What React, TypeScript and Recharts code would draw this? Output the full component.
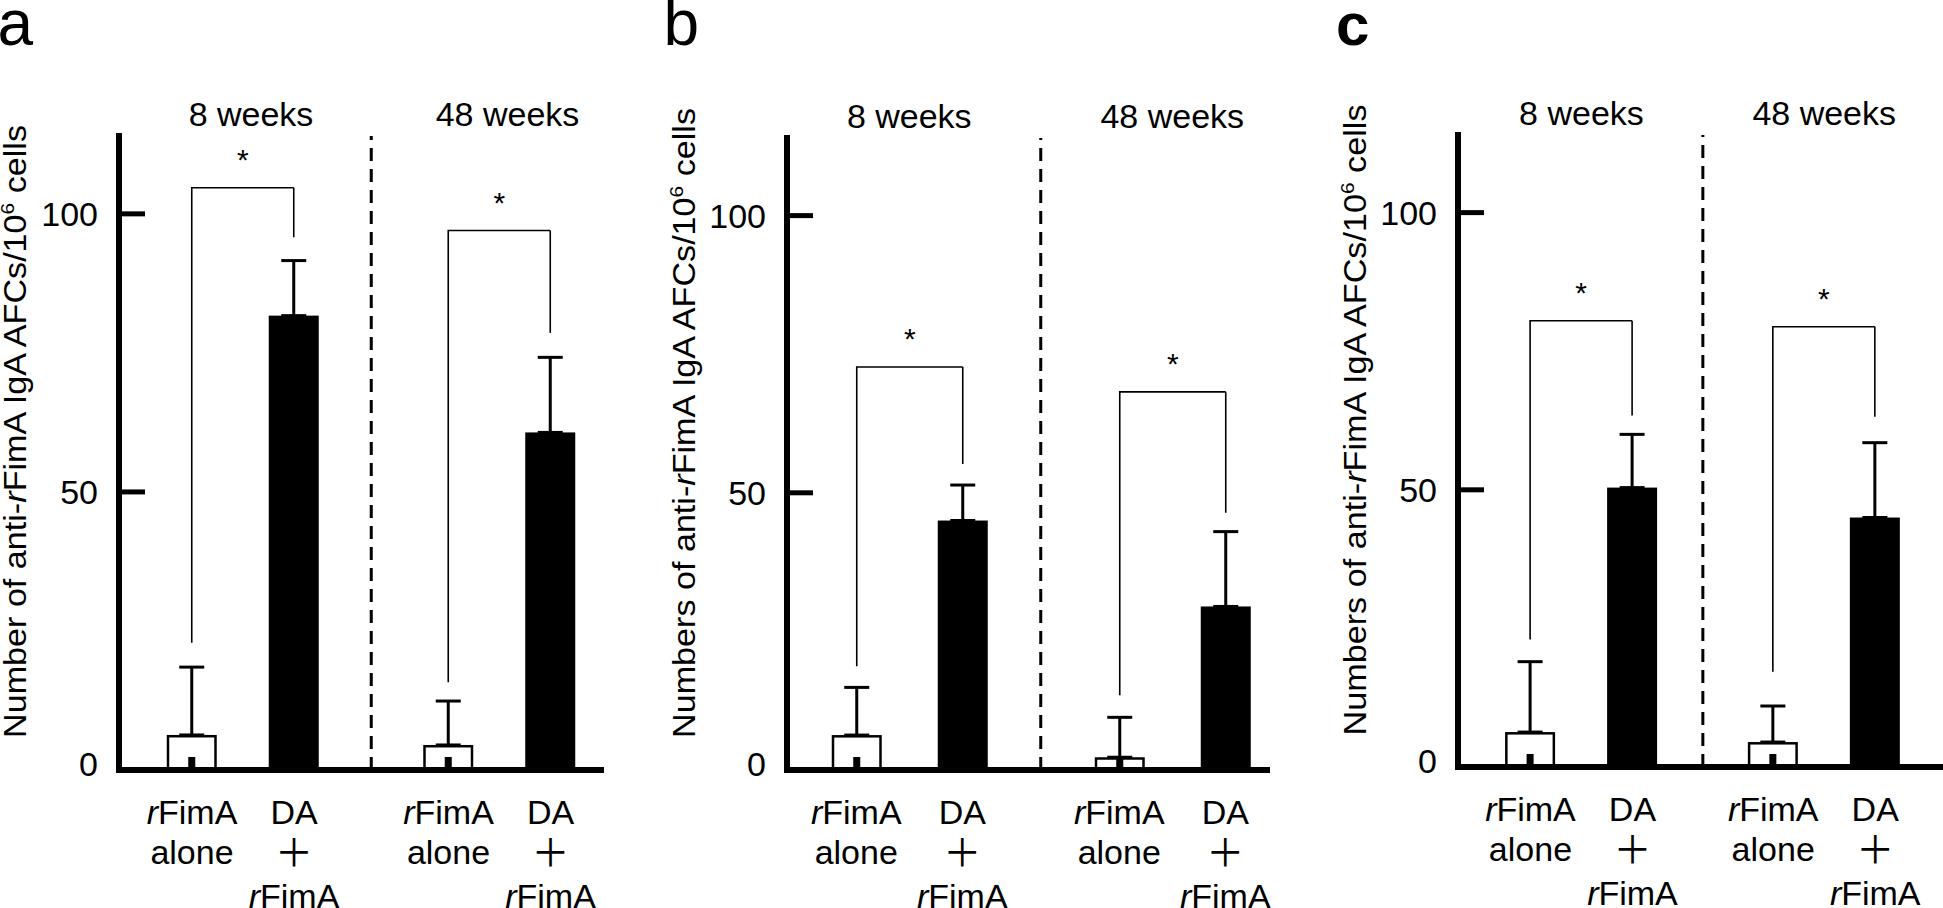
import React from "react";
import { BarChart, Bar, XAxis, YAxis, ErrorBar, ReferenceLine } from "recharts";

const FONT = "'Liberation Sans', Arial, Helvetica, sans-serif";

const GROUPS = ["8 weeks", "48 weeks"];
const Y_TICKS = [0, 50, 100];
const Y_MAX = 114;
const ALONE_LABEL = ["rFimA", "alone"];
const DA_LABEL = ["DA", "+", "rFimA"];

// panel a: means, SD, and the significance bracket levels (axis units)
const A_ALONE = [6.3, 4.5];
const A_ALONE_SD = [12.2, 7.9];
const A_DA = [81.7, 60.7];
const A_DA_SD = [9.9, 13.5];
const A_BRACKET = [104.7, 97.0];
const A_LEG_ALONE = [22.9, 15.8];
const A_LEG_DA = [95.8, 78.6];

// panel b
const B_ALONE = [6.3, 2.3];
const B_ALONE_SD = [8.6, 7.2];
const B_DA = [45.0, 29.5];
const B_DA_SD = [6.4, 13.5];
const B_BRACKET = [72.7, 68.2];
const B_LEG_ALONE = [18.7, 13.5];
const B_LEG_DA = [55.2, 46.4];

// panel c
const C_ALONE = [6.3, 4.5];
const C_ALONE_SD = [12.7, 6.5];
const C_DA = [50.4, 45.0];
const C_DA_SD = [9.6, 13.5];
const C_BRACKET = [80.5, 79.4];
const C_LEG_ALONE = [23.0, 17.2];
const C_LEG_DA = [63.4, 63.2];

const BAR = 50;
const LINE_Y = [54, 94, 138];

function rows(alone, aloneSd, da, daSd, bracket, legAlone, legDa) {
  return GROUPS.map((group, i) => ({
    group,
    alone: alone[i],
    aloneSd: aloneSd[i],
    da: da[i],
    daSd: daSd[i],
    bracket: bracket[i],
    legAlone: legAlone[i],
    legDa: legDa[i],
  }));
}

const PANELS = [
  {
    key: "a",
    data: rows(A_ALONE, A_ALONE_SD, A_DA, A_DA_SD, A_BRACKET, A_LEG_ALONE, A_LEG_DA),
    left: 0, width: 640, yAxisWidth: 119, marginRight: 36,
    top: 136, bottom: 770, padL: -4.25, padR: -23.75, gap: 52,
    lead: "Number", labelX: 26, labelDy: -21.5, labelLen: 613, headerDx: 8,
  },
  {
    key: "b",
    data: rows(B_ALONE, B_ALONE_SD, B_DA, B_DA_SD, B_BRACKET, B_LEG_ALONE, B_LEG_DA),
    left: 660, width: 640, yAxisWidth: 127, marginRight: 30,
    top: 138, bottom: 770, padL: -9.25, padR: -33.75, gap: 56,
    lead: "Numbers", labelX: 35, labelDy: -31, labelLen: 630, headerDx: 0,
  },
  {
    key: "c",
    data: rows(C_ALONE, C_ALONE_SD, C_DA, C_DA_SD, C_BRACKET, C_LEG_ALONE, C_LEG_DA),
    left: 1300, width: 643, yAxisWidth: 158, marginRight: 0,
    top: 135, bottom: 767, padL: 2.1, padR: -2.6, gap: 52,
    lead: "Numbers", labelX: 66, labelDy: -31, labelLen: 631, headerDx: 0,
  },
];

function Line1({ text }) {
  if (text === "rFimA") {
    return (
      <>
        <tspan fontStyle="italic">r</tspan>FimA
      </>
    );
  }
  return <>{text}</>;
}

function BarLabel({ x, y, lines }) {
  return (
    <>
      {lines.map((t, i) =>
        t === "+" ? (
          <text key={i} x={x} y={y + LINE_Y[i] + 2} textAnchor="middle" fontFamily="'Noto Sans CJK JP', sans-serif" fontSize={38}>
            {"\uFF0B"}
          </text>
        ) : (
          <text key={i} x={x} y={y + LINE_Y[i]} textAnchor="middle" fontFamily={FONT} fontSize={34}>
            <Line1 text={t} />
          </text>
        )
      )}
    </>
  );
}

function ValueTick({ x, y, payload }) {
  return (
    <g>
      <text x={x} y={payload.value === 0 ? y - 6 : y} dy="0.36em" textAnchor="end" fontFamily={FONT} fontSize={34} fill="#000">
        {payload.value}
      </text>
      <line x1={x + 21} x2={x + 47} y1={y} y2={y} stroke="#000" strokeWidth={5} />
    </g>
  );
}

function AxisTitle({ viewBox, lead, dx, dy, len }) {
  const cx = viewBox.x + dx;
  const cy = viewBox.y + viewBox.height / 2 + dy;
  return (
    <text
      transform={`translate(${cx},${cy}) rotate(-90)`}
      textAnchor="middle"
      fontFamily={FONT}
      fontSize={31}
      fill="#000"
      textLength={len}
      lengthAdjust="spacingAndGlyphs"
    >
      {lead} of anti-<tspan fontStyle="italic">r</tspan>FimA IgA AFCs/10
      <tspan dy={-12} fontSize={19}>6</tspan>
      <tspan dy={12}> cells</tspan>
    </text>
  );
}

function AloneBar(props) {
  const { x, y, width, height, payload, span } = props;
  const base = y + height;
  const ppu = height / payload.alone;
  const cx = x + width / 2;
  const top = base - payload.bracket * ppu;
  const leg = base - payload.legAlone * ppu;
  return (
    <g>
      <rect x={x + 1.25} y={y + 1.25} width={width - 2.5} height={Math.max(height - 1.25, 0)} fill="#fff" stroke="#000" strokeWidth={2.5} />
      <rect x={cx - 3.5} y={base - 13} width={7} height={13} fill="#000" />
      <path d={`M${cx},${leg}V${top}H${cx + span}`} fill="none" stroke="#000" strokeWidth={1.6} />
      <text x={cx + span / 2} y={top - 18} textAnchor="middle" fontFamily={FONT} fontSize={30} fill="#000">
        *
      </text>
    </g>
  );
}

function DaBar(props) {
  const { x, y, width, height, payload } = props;
  const base = y + height;
  const ppu = height / payload.da;
  const cx = x + width / 2;
  const top = base - payload.bracket * ppu;
  const leg = base - payload.legDa * ppu;
  return (
    <g>
      <rect x={x} y={y} width={width} height={height} fill="#000" />
      <path d={`M${cx},${top}V${leg}`} fill="none" stroke="#000" strokeWidth={1.6} />
    </g>
  );
}

function Panel({ p }) {
  const span = BAR + p.gap;
  const pad = { left: p.padL, right: p.padR };
  return (
    <div style={{ position: "absolute", left: p.left, top: 0 }}>
      <BarChart
        width={p.width}
        height={908}
        data={p.data}
        margin={{ top: p.top - 30, right: p.marginRight, bottom: 0, left: 0 }}
        barSize={BAR}
        barGap={p.gap}
      >
        <XAxis
          xAxisId="top"
          orientation="top"
          dataKey="group"
          height={30}
          axisLine={false}
          tickLine={false}
          tickSize={0}
          tickMargin={0}
          interval={0}
          padding={pad}
          tick={({ x, y, payload }) => (
            <text x={x + p.headerDx} y={y - 10} textAnchor="middle" fontFamily={FONT} fontSize={34} fill="#000">
              {payload.value}
            </text>
          )}
        />
        <XAxis
          dataKey="group"
          height={908 - p.bottom}
          axisLine={{ stroke: "#000", strokeWidth: 6 }}
          tickLine={false}
          tickSize={0}
          tickMargin={0}
          interval={0}
          padding={pad}
          tick={({ x, y }) => (
            <g>
              <BarLabel x={x - span / 2} y={y} lines={ALONE_LABEL} />
              <BarLabel x={x + span / 2} y={y} lines={DA_LABEL} />
            </g>
          )}
        />
        <YAxis
          domain={[0, Y_MAX]}
          ticks={Y_TICKS}
          interval={0}
          width={p.yAxisWidth}
          axisLine={{ stroke: "#000", strokeWidth: 6, strokeLinecap: "square" }}
          tickLine={false}
          tickSize={0}
          tickMargin={21}
          tick={ValueTick}
          label={{
            content: (lp) => <AxisTitle viewBox={lp.viewBox} lead={p.lead} dx={p.labelX} dy={p.labelDy} len={p.labelLen} />,
          }}
        />
        <ReferenceLine x="48 weeks" position="start" stroke="#000" strokeWidth={3} strokeDasharray="13 8" />
        <Bar dataKey="alone" isAnimationActive={false} shape={(s) => <AloneBar {...s} span={span} />}>
          <ErrorBar dataKey={(d) => [0, d.aloneSd]} width={12.5} strokeWidth={3} stroke="#000" isAnimationActive={false} />
        </Bar>
        <Bar dataKey="da" isAnimationActive={false} shape={(s) => <DaBar {...s} />}>
          <ErrorBar dataKey={(d) => [0, d.daSd]} width={12.5} strokeWidth={3} stroke="#000" isAnimationActive={false} />
        </Bar>
      </BarChart>
    </div>
  );
}

export default function App() {
  return (
    <div style={{ position: "absolute", left: 0, top: 0, width: 1943, height: 908, background: "#fff", overflow: "hidden" }}>
      {PANELS.map((p) => (
        <Panel key={p.key} p={p} />
      ))}
      <svg width={1943} height={908} style={{ position: "absolute", left: 0, top: 0, pointerEvents: "none" }}>
        <text x={-2.5} y={45} fontFamily={FONT} fontSize={64}>a</text>
        <text x={663.5} y={45} fontFamily={FONT} fontSize={64}>b</text>
        <text x={1336} y={45} fontFamily={FONT} fontSize={60} fontWeight="bold">c</text>
      </svg>
    </div>
  );
}
